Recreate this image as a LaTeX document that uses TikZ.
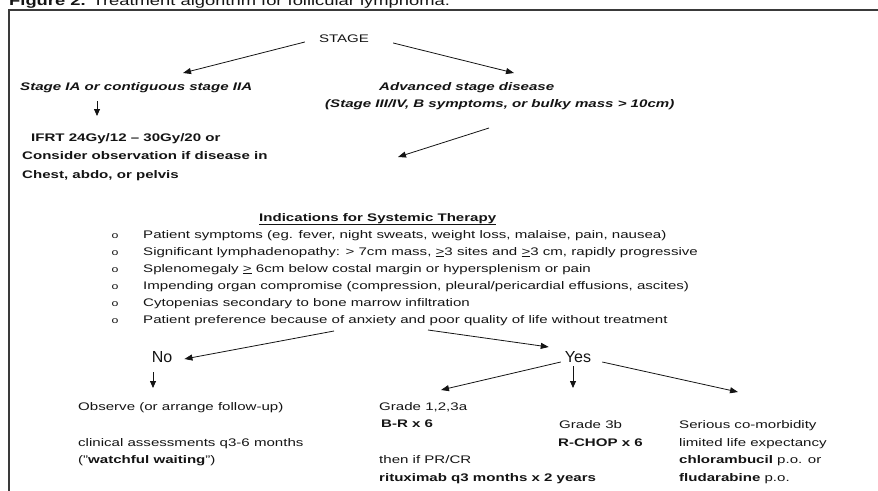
\documentclass[tikz,border=0pt]{standalone}
\usepackage{fontspec}
\setmainfont[FakeStretch=1.37]{Liberation Sans}
\newfontfamily\plainsans{Liberation Sans}
\usetikzlibrary{arrows.meta}
\definecolor{ink}{HTML}{141414}
\definecolor{frame}{HTML}{3A3A3A}
\begin{document}
\begin{tikzpicture}[x=1pt,y=-1pt,
  txt/.style={anchor=west, inner sep=0pt, text height=8pt, text depth=2pt,
              font=\fontsize{11}{13}\selectfont, text=ink},
  bf/.style={txt, font=\fontsize{11}{13}\selectfont\bfseries},
  bfit/.style={txt, font=\fontsize{11}{13}\selectfont\bfseries\itshape},
  big/.style={anchor=center, inner sep=0pt, font=\plainsans\fontsize{16}{18}\selectfont, text=ink},
  arr/.style={-{Triangle[length=8pt,width=6pt]}, line width=0.8pt, draw=ink},
  sarr/.style={-{Triangle[length=7pt,width=6pt]}, line width=0.8pt, draw=ink}]
\useasboundingbox (0,0) rectangle (878,490);
\clip (0,0) rectangle (878,490);

% caption, mostly above the frame
\node[anchor=base west, inner sep=0pt, font=\fontsize{13.4}{15}\selectfont, text=ink] (cap) at (9,5)
  {\textbf{Figure 2.} Treatment algorithm for follicular lymphoma.};

% frame
\draw[line width=1.6pt, draw=frame] (9,500) -- (9,10) -- (890,10);

% staging
\node[txt, anchor=center] (stage) at (344,39) {STAGE};
\node[bfit] (early) at (20,87) {Stage IA or contiguous stage IIA};
\node[bfit] (adv1) at (379,87) {Advanced stage disease};
\node[bfit] (adv2) at (325,104) {(Stage III/IV, B symptoms, or bulky mass > 10cm)};

\node[bf] (ifrt1) at (31,138) {IFRT 24Gy/12 – 30Gy/20 or};
\node[bf] (ifrt2) at (22,156) {Consider observation if disease in};
\node[bf] (ifrt3) at (22,175) {Chest, abdo, or pelvis};

% (shifts are in page points: negative yshift moves down)
\coordinate (eT) at (183,73);
\coordinate (aT) at (514,73);
\draw[arr] ([xshift=-14pt,yshift=-3pt]stage.west) -- (eT);
\draw[arr] ([xshift=24pt,yshift=-4pt]stage.east) -- (aT);

\coordinate (e2) at (97,116);
\draw[sarr] ([yshift=-9pt]early.south -| e2) -- (e2);

\coordinate (a2) at (398,157);
\draw[arr] (489,128) -- (a2);

% indications
\node[bf] (ind) at (259,218) {\underline{Indications for Systemic Therapy}};
\foreach \y/\t [count=\i] in {
  235/{Patient symptoms (eg. fever, night sweats, weight loss, malaise, pain, nausea)},
  252/{Significant lymphadenopathy: > 7cm mass, \underline{>}3 sites and \underline{>}3 cm, rapidly progressive},
  269/{Splenomegaly \underline{>} 6cm below costal margin or hypersplenism or pain},
  286/{Impending organ compromise (compression, pleural/pericardial effusions, ascites)},
  303/{Cytopenias secondary to bone marrow infiltration},
  320/{Patient preference because of anxiety and poor quality of life without treatment}}{
  \node[txt, anchor=center, font=\fontsize{9}{11}\selectfont] (o\i) at (115,\y) {o};
  \node[txt] (l\i) at (143,\y) {\t};
}

% decision
\node[big] (no) at (162,357) {No};
\node[big] (yes) at (578,357) {Yes};
\draw[arr] (334,331) -- ([xshift=12pt,yshift=-2pt]no.east);
\draw[arr] (428,330) -- ([xshift=-16pt,yshift=10pt]yes.west);

\coordinate (nd) at (153,388);
\draw[sarr] (153,372) -- (nd);

% no branch
\node[txt] (obs) at (78,407) {Observe (or arrange follow-up)};
\node[txt] (cli) at (78,443) {clinical assessments q3-6 months};
\node[txt] (ww) at (78,460) {("\textbf{watchful waiting}")};

% yes branch
\coordinate (g1) at (441,390);
\coordinate (g2) at (573,388);
\coordinate (g3) at (738,392);
\draw[arr] ([xshift=-4pt,yshift=-5pt]yes.west) -- (g1);
\draw[sarr] (573,366) -- (g2);
\draw[arr] ([xshift=11pt,yshift=-5pt]yes.east) -- (g3);

\node[txt] (gr1) at (379,407) {Grade 1,2,3a};
\node[bf] (br) at (381,424) {B-R x 6};
\node[txt] (pr) at (379,460) {then if PR/CR};
\node[bf] (rit) at (379,478) {rituximab q3 months x 2 years};

\node[txt] (gr3) at (559,425) {Grade 3b};
\node[bf] (chop) at (558,443) {R-CHOP x 6};

\node[txt] (ser) at (679,425) {Serious co-morbidity};
\node[txt] (lim) at (679,443) {limited life expectancy};
\node[txt] (chl) at (679,460) {\textbf{chlorambucil} p.o. or};
\node[txt] (flu) at (679,478) {\textbf{fludarabine} p.o.};
\end{tikzpicture}
\end{document}
